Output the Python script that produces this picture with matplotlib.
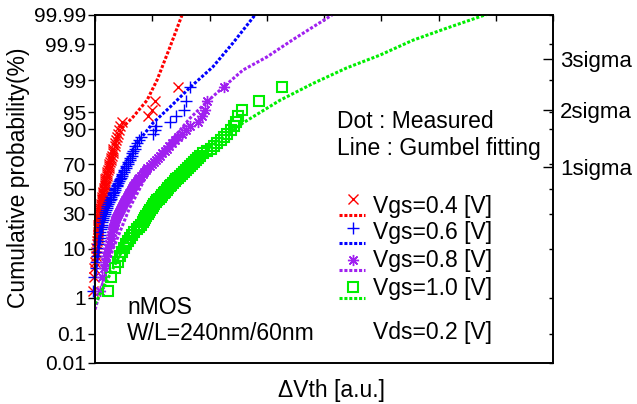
import numpy as np
import matplotlib
matplotlib.use('Agg')
import matplotlib.pyplot as plt
from matplotlib.lines import Line2D
from statistics import NormalDist

plt.rcParams['font.family'] = ['Liberation Sans', 'DejaVu Sans']

# measured dVth (a.u.), sorted, one list per gate voltage
red_x = [-0.035, -0.017, -0.009, 0.0, 0.009, 0.017, 0.026, 0.035, 0.035, 0.044,
         0.044, 0.052, 0.052, 0.061, 0.061, 0.070, 0.070, 0.070, 0.079, 0.079,
         0.087, 0.087, 0.096, 0.105, 0.105, 0.114, 0.122, 0.122, 0.131, 0.140,
         0.140, 0.148, 0.157, 0.157, 0.166, 0.166, 0.175, 0.183, 0.183, 0.192,
         0.201, 0.210, 0.218, 0.227, 0.236, 0.245, 0.253, 0.262, 0.279, 0.288,
         0.297, 0.306, 0.314, 0.323, 0.341, 0.349, 0.367, 0.384, 0.402, 0.419,
         0.437, 0.472, 0.926, 0.996, 1.048, 1.450]
blue_x = [-0.035, -0.009, 0.009, 0.017, 0.035, 0.044, 0.052, 0.061, 0.070, 0.079,
          0.087, 0.096, 0.105, 0.114, 0.122, 0.131, 0.140, 0.148, 0.157, 0.166,
          0.175, 0.192, 0.201, 0.218, 0.227, 0.245, 0.262, 0.271, 0.288, 0.306,
          0.314, 0.332, 0.349, 0.358, 0.376, 0.393, 0.410, 0.419, 0.437, 0.454,
          0.463, 0.480, 0.498, 0.515, 0.533, 0.550, 0.568, 0.585, 0.603, 0.620,
          0.638, 0.655, 0.672, 0.690, 0.707, 0.734, 0.769, 0.803, 1.013, 1.048,
          1.066, 1.310, 1.415, 1.555, 1.590, 1.659]
purple_x = [0.096, 0.131, 0.157, 0.175, 0.192, 0.210, 0.227, 0.245, 0.262, 0.271,
            0.288, 0.297, 0.314, 0.323, 0.332, 0.349, 0.358, 0.367, 0.384, 0.402,
            0.419, 0.437, 0.454, 0.472, 0.489, 0.507, 0.524, 0.541, 0.559, 0.576,
            0.594, 0.611, 0.629, 0.646, 0.664, 0.681, 0.707, 0.734, 0.751, 0.777,
            0.803, 0.830, 0.856, 0.891, 0.917, 0.952, 0.987, 1.022, 1.057, 1.092,
            1.135, 1.170, 1.214, 1.258, 1.293, 1.345, 1.397, 1.450, 1.520, 1.590,
            1.659, 1.799, 1.869, 1.921, 1.956, 2.253]
green_x = [0.227, 0.279, 0.349, 0.402, 0.437, 0.472, 0.507, 0.541, 0.576, 0.611,
           0.646, 0.681, 0.734, 0.769, 0.803, 0.838, 0.856, 0.873, 0.891, 0.926,
           0.943, 0.961, 0.996, 1.013, 1.031, 1.066, 1.083, 1.118, 1.153, 1.170,
           1.205, 1.223, 1.258, 1.275, 1.310, 1.328, 1.362, 1.397, 1.415, 1.450,
           1.485, 1.520, 1.555, 1.590, 1.624, 1.659, 1.694, 1.729, 1.764, 1.799,
           1.834, 1.886, 1.956, 2.026, 2.079, 2.131, 2.201, 2.253, 2.306, 2.376,
           2.428, 2.463, 2.498, 2.568, 2.865, 3.266]

# Gumbel fitting curves: dVth and cumulative probability (%)
red_fit_x = [0.0, 0.035, 0.105, 0.227, 0.437, 0.664, 0.908, 1.083, 1.31, 1.52]
red_fit_p = [4.0, 18.8, 50.0, 71.0, 89.6, 93.8, 97.1, 99.0, 99.88, 99.99]
blue_fit_x = [0.0, 0.1, 0.25, 0.45, 0.734, 1.013, 1.31, 1.66, 2.06, 2.41, 2.795]
blue_fit_p = [3.0, 20.0, 45.0, 65.0, 83.7, 92.1, 96.0, 98.5, 99.55, 99.91, 99.99]
purple_fit_x = [0.0, 0.3, 0.6, 0.9, 1.2, 1.66, 1.956, 2.236, 2.585, 3.0, 3.46, 4.14]
purple_fit_p = [0.5, 9.2, 33.9, 61.2, 80.0, 93.5, 96.9, 98.5, 99.45, 99.76, 99.93, 99.99]
green_fit_x = [0.0, 0.5, 1.0, 1.5, 2.0, 2.585, 3.23, 3.81, 4.40, 4.98, 5.55, 6.15,
               6.78, 6.9]
green_fit_p = [0.7, 10.5, 36.2, 63.2, 81.2, 92.1, 97.1, 98.8, 99.52, 99.79, 99.926,
               99.971, 99.9895, 99.9913]

labels = ['Vgs=0.4 [V]', 'Vgs=0.6 [V]', 'Vgs=0.8 [V]', 'Vgs=1.0 [V]']
prob_ticks = [0.01, 0.1, 1, 10, 30, 50, 70, 90, 95, 99, 99.9, 99.99]
prob_labels = ['0.01', '0.1', '1', '10', '30', '50', '70', '90', '95', '99',
               '99.9', '99.99']
sigma_ticks = [68.27, 95.45, 99.73]
sigma_labels = ['1sigma', '2sigma', '3sigma']

W, H = 637, 404
FS = 16.5
TFS = 15

nd = NormalDist()
ppf = np.vectorize(lambda p: nd.inv_cdf(min(max(p / 100.0, 1e-12), 1 - 1e-12)),
                   otypes=[float])
cdf = np.vectorize(lambda z: 100.0 * nd.cdf(z), otypes=[float])


def fx(px):
    return px / W


def fy(py):
    return 1 - py / H


fig = plt.figure(figsize=(W / 100, H / 100), dpi=100)
ax = fig.add_axes([fx(95), fy(363), 458 / W, 348 / H])
ax.set_yscale('function', functions=(ppf, cdf))

styles = [
    dict(marker='x', color='#ff0000', ms=7.5, mew=1.0, mfc='none'),
    dict(marker='+', color='#0000ff', ms=8.5, mew=1.0, mfc='none'),
    dict(marker=(8, 2, 0), color='#a020f0', ms=8.0, mew=1.0, mfc='none'),
    dict(marker='s', color='#00ee00', ms=7.5, mew=1.5, mfc='none'),
]
series = [red_x, blue_x, purple_x, green_x]
fits = [(red_fit_x, red_fit_p), (blue_fit_x, blue_fit_p),
        (purple_fit_x, purple_fit_p), (green_fit_x, green_fit_p)]
dots = (0, (1.0, 0.6))

for xs, st in zip(series, styles):
    n = len(xs)
    p = np.arange(1, n + 1) / (n + 1) * 100
    ax.plot(xs, p, ls='none', clip_on=False, zorder=3, **st)

for (fxs, fps), st in zip(fits, styles):
    ax.plot(fxs, fps, ls=dots, lw=2.2, color=st['color'], zorder=4,
            dash_capstyle='butt')

ax.set_xlim(0, 8)
ax.set_ylim(0.01, 99.99)
ax.set_yticks(prob_ticks, prob_labels)
ax.set_xticks(range(0, 9))
ax.tick_params(axis='y', which='major', direction='out', length=5, width=1,
               labelsize=TFS, pad=1.5)
ax.tick_params(axis='y', which='minor', left=False)
ax.tick_params(axis='x', bottom=False, top=True, direction='in', length=4,
               width=1, labelbottom=False, labeltop=False)
for s in ax.spines.values():
    s.set_linewidth(1.2)

ax2 = ax.twinx()
ax2.set_yscale('function', functions=(ppf, cdf))
ax2.set_ylim(0.01, 99.99)
ax2.set_yticks(sigma_ticks, sigma_labels)
ax2.set_yticks(prob_ticks, minor=True)
ax2.tick_params(which='major', direction='in', length=7, width=1,
                labelsize=TFS + 1, pad=5)
ax2.tick_params(which='minor', direction='in', length=3, width=1)
for s in ax2.spines.values():
    s.set_linewidth(1.2)

# legend drawn by hand: marker above, dotted line below, text to the right
leg_rows = [(199, 215, 207), (228, 243, 233), (260, 270, 261), (287, 298, 288)]
for (my, ly, ty), st, lab in zip(leg_rows, styles, labels):
    fig.add_artist(Line2D([fx(353)], [fy(my)], ls='none', **st))
    fig.add_artist(Line2D([fx(339), fx(365)], [fy(ly), fy(ly)], ls=dots,
                          lw=2.2, color=st['color'], dash_capstyle='butt'))
    fig.text(fx(373), fy(ty), lab, fontsize=FS, va='center')

fig.text(fx(373), fy(332), 'Vds=0.2 [V]', fontsize=FS, va='center')
fig.text(fx(337), fy(122), 'Dot : Measured', fontsize=FS, va='center')
fig.text(fx(337), fy(149), 'Line : Gumbel fitting', fontsize=FS, va='center')
fig.text(fx(127), fy(308), 'nMOS', fontsize=FS, va='center')
fig.text(fx(127), fy(333), 'W/L=240nm/60nm', fontsize=FS, va='center')
fig.text(fx(19), fy(178), 'Cumulative probability(%)', fontsize=FS,
         rotation=90, ha='center', va='center')
fig.text(fx(332), fy(390), '\u0394Vth [a.u.]', fontsize=FS, ha='center',
         va='center')

fig.savefig('out.png', dpi=100)
